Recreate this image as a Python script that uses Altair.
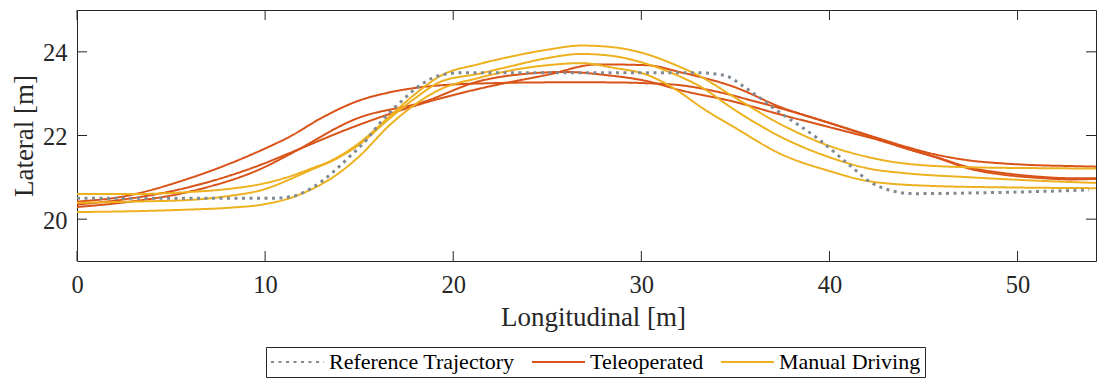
import altair as alt
import pandas as pd

FONT = "Liberation Serif"
TXT = "#262626"

X_TICKS = [0, 10, 20, 30, 40, 50]
Y_TICKS = [20, 22, 24]
SERIES = ["Reference Trajectory", "Teleoperated", "Manual Driving"]
COLORS = ["#7f8a93", "#d95319", "#edb120"]

REF_X = [0, 5, 10.5, 11.5, 12.5, 13.6, 14.5, 15.4, 16.1, 17.2, 18.4, 19.4, 20.5, 25, 30, 33,
         34.4, 35.6, 37.2, 39.4, 41.1, 42.2, 43.3, 44.5, 48, 51, 53.8]
REF_Y = [20.5, 20.5, 20.5, 20.55, 20.75, 21.12, 21.5, 21.9, 22.3, 22.8, 23.25, 23.45, 23.5, 23.5, 23.5, 23.5,
         23.44, 23.12, 22.6, 21.92, 21.28, 20.88, 20.68, 20.61, 20.63, 20.66, 20.7]

TELE_A_X = [0, 2.3, 6, 10, 11.3, 13, 14.9, 16.5, 18.4, 20, 22, 25, 28, 30.3, 32.1, 34, 36, 37.4, 40, 42.7,
            44, 45.7, 47.5, 49.3, 51, 52.8, 54.6]
TELE_A_Y = [20.42, 20.53, 20.98, 21.69, 21.97, 22.42, 22.82, 23.02, 23.16, 23.22, 23.25, 23.27, 23.27, 23.25,
            23.2, 23.05, 22.82, 22.65, 22.3, 21.92, 21.74, 21.54, 21.4, 21.33, 21.29, 21.27, 21.25]

TELE_B_X = [0, 2.3, 6, 10, 11.3, 14.9, 18.4, 21.4, 25, 27.7, 30.3, 32.1, 35, 37.4, 40, 42.7, 44, 45.7,
            47.5, 49.3, 51, 52.8, 54.6]
TELE_B_Y = [20.35, 20.46, 20.77, 21.34, 21.58, 22.24, 22.77, 23.12, 23.45, 23.7, 23.68, 23.51, 23.15, 22.68,
            22.3, 21.9, 21.7, 21.48, 21.23, 21.1, 21.02, 20.98, 20.98]

TELE_C_X = [0, 2.3, 6, 10, 11.3, 14.9, 18.4, 21.4, 24, 26, 28, 30.3, 32.1, 35, 37.4, 40, 42.7, 44, 45.7,
            47.5, 49.3, 51, 52.8, 54.6]
TELE_C_Y = [20.29, 20.39, 20.66, 21.25, 21.55, 22.41, 22.8, 23.3, 23.48, 23.52, 23.45, 23.3, 23.08, 22.8,
            22.5, 22.2, 21.88, 21.7, 21.47, 21.2, 21.06, 20.99, 20.95, 20.97]

MAN_A_X = [0, 3, 6, 8, 10, 11.3, 12.4, 13.6, 15, 16.6, 18, 19.3, 21.4, 23, 25, 26.8, 28.5, 30, 32.1, 33.1,
           35, 37.4, 40, 42.2, 44, 47.5, 51, 54.6]
MAN_A_Y = [20.6, 20.6, 20.65, 20.72, 20.86, 21.02, 21.2, 21.42, 21.82, 22.45, 23.0, 23.42, 23.71, 23.88,
           24.05, 24.15, 24.11, 23.98, 23.63, 23.42, 22.9, 22.27, 21.75, 21.47, 21.33, 21.24, 21.22, 21.21]

MAN_B_X = [0, 3, 6, 8, 10, 11.3, 12.4, 13.6, 15, 16.6, 18, 19.3, 21.4, 23, 25, 26.8, 28.5, 30, 32.1, 33.1,
           35, 37.4, 40, 42.2, 44, 47.5, 51, 54.6]
MAN_B_Y = [20.39, 20.42, 20.46, 20.55, 20.72, 20.95, 21.17, 21.4, 21.78, 22.4, 22.9, 23.28, 23.48, 23.65,
           23.85, 23.95, 23.9, 23.75, 23.4, 23.18, 22.6, 21.97, 21.48, 21.2, 21.1, 21.0, 20.92, 20.86]

MAN_C_X = [0, 3, 6, 8, 10, 11.3, 12.4, 13.6, 15, 16.6, 18, 19.3, 21.4, 23, 25, 26.8, 28.5, 30.3, 32.1, 33.1,
           35, 37.4, 40, 42.2, 45.7, 49.3, 54.6]
MAN_C_Y = [20.17, 20.19, 20.23, 20.27, 20.36, 20.5, 20.7, 21.0, 21.5, 22.24, 22.75, 23.1, 23.38, 23.55,
           23.68, 23.73, 23.62, 23.45, 23.02, 22.7, 22.18, 21.56, 21.15, 20.9, 20.79, 20.76, 20.74]


def rows(group, run, xs, ys):
    return [{"group": group, "run": run, "x": x, "y": y, "i": i}
            for i, (x, y) in enumerate(zip(xs, ys))]


ref_df = pd.DataFrame(rows(SERIES[0], "ref", REF_X, REF_Y))
tele_df = pd.DataFrame(rows(SERIES[1], "t1", TELE_A_X, TELE_A_Y)
                       + rows(SERIES[1], "t2", TELE_B_X, TELE_B_Y)
                       + rows(SERIES[1], "t3", TELE_C_X, TELE_C_Y))
man_df = pd.DataFrame(rows(SERIES[2], "m1", MAN_A_X, MAN_A_Y)
                      + rows(SERIES[2], "m2", MAN_B_X, MAN_B_Y)
                      + rows(SERIES[2], "m3", MAN_C_X, MAN_C_Y))
xt_df = pd.DataFrame({"x": X_TICKS})
yt_df = pd.DataFrame({"y": Y_TICKS})

W, H = 1019, 251
xscale = alt.Scale(domain=[0, 54.17], nice=False, zero=False)
yscale = alt.Scale(domain=[19, 25], nice=False, zero=False)

xaxis = alt.Axis(values=X_TICKS, ticks=False, domain=False, grid=False, labelFlush=False,
                 labelFont=FONT, labelFontSize=24.5, labelColor=TXT, labelPadding=31.5,
                 labelBaseline="alphabetic",
                 title="Longitudinal [m]", titleFont=FONT, titleFontSize=27, titleFontWeight="normal",
                 titleColor=TXT, titleBaseline="alphabetic", titleY=64, titleX=516)
yaxis = alt.Axis(values=Y_TICKS, ticks=False, domain=False, grid=False, labelFlush=False,
                 labelFont=FONT, labelFontSize=24.5, labelColor=TXT, labelPadding=10,
                 labelBaseline="alphabetic", labelOffset=9,
                 title="Lateral [m]", titleFont=FONT, titleFontSize=27, titleFontWeight="normal",
                 titleColor=TXT, titleBaseline="alphabetic", titleAngle=270, titleAlign="center",
                 titleX=-45, titleY=H / 2)

legend = alt.Legend(title=None, orient="none", legendX=189, legendY=337, direction="horizontal",
                    columns=3, symbolType="stroke", symbolSize=2809, symbolStrokeWidth=2,
                    clipHeight=22, labelFont=FONT, labelFontSize=22, labelColor="#000000",
                    labelOffset=4, labelLimit=400, columnPadding=16, padding=4,
                    strokeColor=TXT, fillColor="white")

color = alt.Color("group:N", scale=alt.Scale(domain=SERIES, range=COLORS), legend=legend)
dash = alt.StrokeDash("group:N", scale=alt.Scale(domain=SERIES, range=[[3, 4.5], [1, 0], [1, 0]]),
                      legend=legend)

X_ENC = alt.X("x:Q", scale=xscale, axis=xaxis)
Y_ENC = alt.Y("y:Q", scale=yscale, axis=yaxis)


def lines(df, width):
    return alt.Chart(df).mark_line(strokeWidth=width, interpolate="monotone", strokeCap="butt",
                                   clip=True).encode(
        x=X_ENC, y=Y_ENC, color=color, strokeDash=dash, detail="run:N", order="i:Q",
    )


tele = lines(tele_df, 2)
man = lines(man_df, 2)
ref = lines(ref_df, 3)

tick_style = dict(color=TXT, strokeWidth=1)
xt_bottom = alt.Chart(xt_df).mark_rule(**tick_style).encode(
    x=X_ENC, y=alt.value(H), y2=alt.value(H - 10))
xt_top = alt.Chart(xt_df).mark_rule(**tick_style).encode(
    x=X_ENC, y=alt.value(0), y2=alt.value(10))
yt_left = alt.Chart(yt_df).mark_rule(**tick_style).encode(
    y=Y_ENC, x=alt.value(0), x2=alt.value(10))
yt_right = alt.Chart(yt_df).mark_rule(**tick_style).encode(
    y=Y_ENC, x=alt.value(W - 10), x2=alt.value(W))

chart = alt.layer(tele, man, ref, xt_bottom, xt_top, yt_left, yt_right).properties(
    width=W, height=H,
    autosize=alt.AutoSizeParams(type="none"),
    padding={"left": 69, "top": 2, "right": 1, "bottom": 118},
    background="white",
).configure_view(stroke=TXT, strokeWidth=1)

chart.save("out.html", embed_options={"renderer": "svg", "actions": False})
